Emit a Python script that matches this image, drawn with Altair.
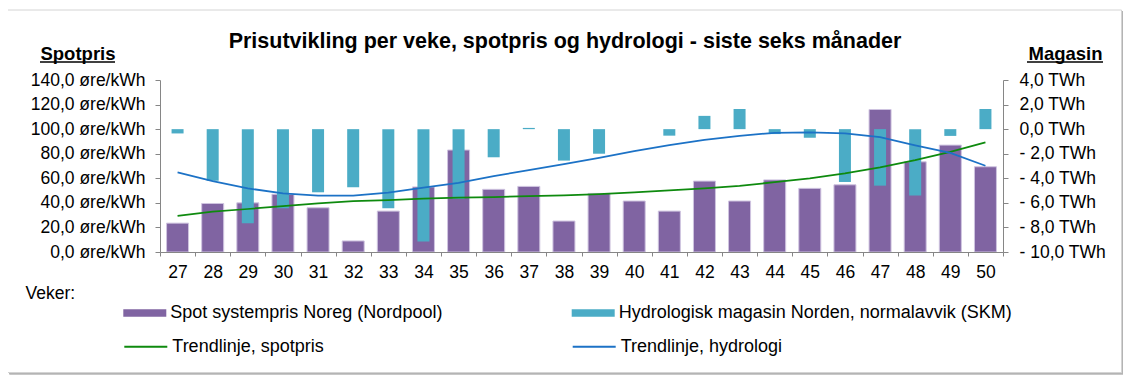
import altair as alt
import pandas as pd

# ---- data ----
weeks = [27, 28, 29, 30, 31, 32, 33, 34, 35, 36, 37, 38,
         39, 40, 41, 42, 43, 44, 45, 46, 47, 48, 49, 50]
spot = [23.5, 39.5, 40.0, 47.0, 36.0, 9.0, 33.3, 53.0, 83.0, 51.0, 53.4, 25.2,
        47.7, 41.5, 33.3, 57.7, 41.5, 58.7, 51.8, 54.7, 116.0, 73.4, 87.0, 69.4]
hydro = [-0.35, -4.2, -7.66, -6.44, -5.14, -4.73, -6.44, -9.15, -5.68, -2.29, 0.1, -2.56,
         -2.0, 0.0, -0.53, 1.08, 1.64, -0.4, -0.7, -4.3, -4.6, -5.4, -0.55, 1.64]
spot_trend = [29.5, 32.8, 35.0, 37.4, 39.6, 41.5, 42.2, 43.4, 44.2, 44.7, 45.5, 46.1,
              47.2, 48.5, 50.2, 51.8, 53.9, 56.8, 59.9, 64.0, 68.9, 74.8, 81.5, 89.2]
hydro_trend = [-3.52, -4.23, -4.82, -5.23, -5.42, -5.42, -5.16, -4.76, -4.37, -3.82, -3.33, -2.85,
               -2.33, -1.79, -1.30, -0.87, -0.54, -0.30, -0.27, -0.35, -0.65, -1.32, -1.93, -2.98]

series_names = ["Spot systempris Noreg (Nordpool)",
                "Hydrologisk magasin Norden, normalavvik (SKM)",
                "Trendlinje, spotpris",
                "Trendlinje, hydrologi"]
series_colors = ["#8064A2", "#4BACC6", "#0E8A0E", "#1C72C6"]

title_text = "Prisutvikling per veke, spotpris og hydrologi - siste seks månader"
left_ticks = [0, 20, 40, 60, 80, 100, 120, 140]
right_ticks = [-10, -8, -6, -4, -2, 0, 2, 4]

FONT = "Liberation Sans"
AXIS_GRAY = "#868686"
LABEL_SIZE = 17.5

week_labels = [str(w) for w in weeks]
df = pd.DataFrame({
    "veke": week_labels,
    "spot": spot,
    "hydro": hydro,
    "spot_trend": spot_trend,
    "hydro_trend": hydro_trend,
    "s_spot": series_names[0],
    "s_hydro": series_names[1],
    "s_spot_trend": series_names[2],
    "s_hydro_trend": series_names[3],
})
one = pd.DataFrame({"k": [0]})

x_enc = alt.X(
    "veke:O", sort=week_labels, title="Veker:",
    scale=alt.Scale(paddingInner=0, paddingOuter=0),
    axis=alt.Axis(labelAngle=0, tickBand="extent", tickSize=4, labelPadding=7,
                  labelFont=FONT, labelFontSize=LABEL_SIZE, labelColor="black",
                  domainColor=AXIS_GRAY, tickColor=AXIS_GRAY, zindex=1,
                  titleX=-135, titleY=41, titleAlign="left", titleBaseline="middle",
                  titleFontWeight="normal", titleFontSize=17.5, titleFont=FONT,
                  titleColor="black"),
)

left_scale = alt.Scale(domain=[0, 140], nice=False, zero=True)
right_scale = alt.Scale(domain=[-10, 4], nice=False, zero=False)

left_axis = alt.Axis(
    orient="left", values=left_ticks, grid=False, tickSize=5, labelPadding=10, zindex=1,
    labelFont=FONT, labelFontSize=LABEL_SIZE, labelColor="black",
    labelExpr="replace(format(datum.value, '.1f'), '.', ',') + ' øre/kWh'",
    title="Spotpris", titleAngle=0, titleX=-82.5, titleY=-20.5, titleAlign="center",
    titleBaseline="alphabetic", titleFont=FONT, titleFontSize=18.5, titleFontWeight="bold",
    titleColor="black", domainColor=AXIS_GRAY, tickColor=AXIS_GRAY,
)
right_axis = alt.Axis(
    orient="right", values=right_ticks, grid=False, tickSize=5, labelPadding=11, zindex=1,
    labelAlign="left", labelFont=FONT, labelFontSize=LABEL_SIZE, labelColor="black",
    labelExpr=("datum.value < 0 ? '- ' + replace(format(-datum.value, '.1f'), '.', ',') + ' TWh'"
               " : '\u00a0' + replace(format(datum.value, '.1f'), '.', ',') + ' TWh'"),
    title="Magasin", titleAngle=0, titleX=62, titleY=-20.5, titleAlign="center",
    titleBaseline="alphabetic", titleFont=FONT, titleFontSize=18.5, titleFontWeight="bold",
    titleColor="black", domainColor=AXIS_GRAY, tickColor=AXIS_GRAY,
)

BAR_SYM = "M-1,-0.18H1V0.18H-1Z"
SYM_SIZE = 1849


def legend(x, y, sym):
    return alt.Legend(orient="none", legendX=x, legendY=y, title=None, padding=0, zindex=1,
                      symbolType=sym, symbolSize=SYM_SIZE, symbolStrokeWidth=2 if sym == "stroke" else 0,
                      labelFont=FONT, labelFontSize=18, labelColor="black", labelLimit=700,
                      labelOffset=4)


# ---- frame with shadow ----
shadow_outer = alt.Chart(one).mark_rect(fill="#DCDCDC").encode(
    x=alt.value(-150), x2=alt.value(966), y=alt.value(-68), y2=alt.value(297))
shadow_inner = alt.Chart(one).mark_rect(fill="#B4B4B4").encode(
    x=alt.value(-151), x2=alt.value(963.5), y=alt.value(-69), y2=alt.value(294.5))
frame = alt.Chart(one).mark_rect(fill="white", stroke="#D4D4D4", strokeWidth=1).encode(
    x=alt.value(-152.5), x2=alt.value(961.5), y=alt.value(-70), y2=alt.value(292.5))

# ---- data layers ----
spot_bars = alt.Chart(df).mark_bar(size=22, stroke="#CFC4E0", strokeWidth=1).encode(
    x=x_enc,
    y=alt.Y("spot:Q", scale=left_scale, axis=left_axis),
    color=alt.Color("s_spot:N", scale=alt.Scale(domain=[series_names[0]], range=[series_colors[0]]),
                    legend=legend(-36.7, 211.5, BAR_SYM)),
)
hydro_bars = alt.Chart(df).mark_bar(size=12).encode(
    x=x_enc,
    y=alt.Y("hydro:Q", scale=right_scale, axis=right_axis),
    color=alt.Color("s_hydro:N", scale=alt.Scale(domain=[series_names[1]], range=[series_colors[1]]),
                    legend=legend(411.7, 211.5, BAR_SYM)),
)
spot_line = alt.Chart(df).mark_line(strokeWidth=1.75).encode(
    x=x_enc,
    y=alt.Y("spot_trend:Q", scale=left_scale, axis=None),
    color=alt.Color("s_spot_trend:N", scale=alt.Scale(domain=[series_names[2]], range=[series_colors[2]]),
                    legend=legend(-36.7, 244.2, "stroke")),
)
hydro_line = alt.Chart(df).mark_line(strokeWidth=1.75).encode(
    x=x_enc,
    y=alt.Y("hydro_trend:Q", scale=right_scale, axis=None),
    color=alt.Color("s_hydro_trend:N", scale=alt.Scale(domain=[series_names[3]], range=[series_colors[3]]),
                    legend=legend(411.7, 244.2, "stroke")),
)

# underline for the axis titles
ul_left = alt.Chart(one).mark_rule(color="black", strokeWidth=1.5).encode(
    x=alt.value(-120), x2=alt.value(-45), y=alt.value(-18))
ul_right = alt.Chart(one).mark_rule(color="black", strokeWidth=1.5).encode(
    x=alt.value(867), x2=alt.value(943), y=alt.value(-18))

chart = alt.layer(
    shadow_outer, shadow_inner, frame,
    spot_bars, hydro_bars, spot_line, hydro_line,
    ul_left, ul_right,
).resolve_scale(
    y="independent", color="independent"
).resolve_legend(
    color="independent"
).properties(
    width=843, height=172,
    padding={"left": 152, "top": 72, "right": 120, "bottom": 123},
    autosize=alt.AutoSizeParams(type="none"),
    title=alt.TitleParams(text=title_text, font=FONT, fontSize=21.5, fontWeight="bold",
                          color="black", anchor="middle", frame="group", dx=-16.5,
                          baseline="alphabetic", offset=-59.5),
).configure_view(
    stroke=None
).configure_axis(
    labelFont=FONT, labelFontSize=LABEL_SIZE, labelColor="black", grid=False,
    domainColor=AXIS_GRAY, tickColor=AXIS_GRAY, domainWidth=1, tickWidth=1,
).configure(background="white")

chart.save("out.html", embed_options={"renderer": "svg", "actions": False})
